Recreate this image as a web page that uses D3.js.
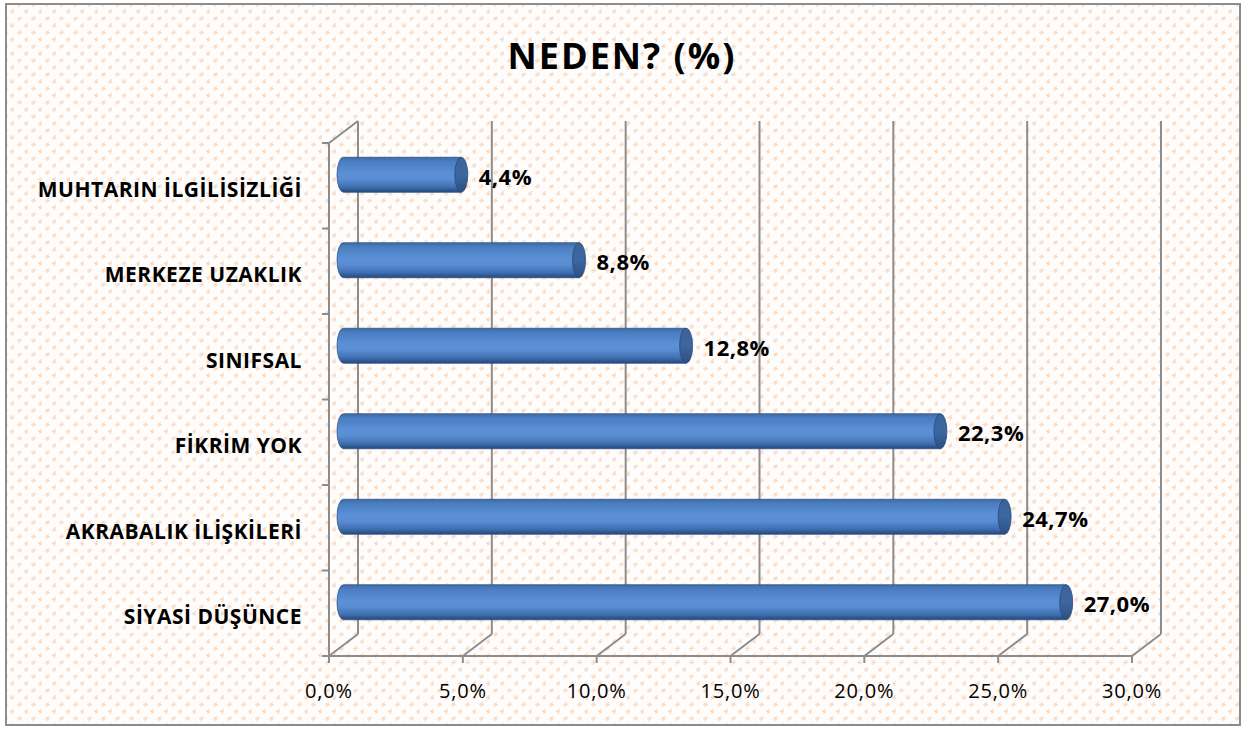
<!DOCTYPE html>
<html><head><meta charset="utf-8">
<script src="https://cdn.jsdelivr.net/npm/d3@7"></script>
<style>html,body{margin:0;padding:0;background:#fff;}svg{display:block;}</style>
</head><body>
<svg id="c" width="1248" height="731"></svg>
<script>
const categories = ["MUHTARIN İLGİLİSİZLİĞİ","MERKEZE UZAKLIK","SINIFSAL","FİKRİM YOK","AKRABALIK İLİŞKİLERİ","SİYASİ DÜŞÜNCE"];
const values = [4.4, 8.8, 12.8, 22.3, 24.7, 27.0];
const valueLabels = ["4,4%","8,8%","12,8%","22,3%","24,7%","27,0%"];
const tickValues = [0,5,10,15,20,25,30];
const tickLabels = ["0,0%","5,0%","10,0%","15,0%","20,0%","25,0%","30,0%"];
const title = "NEDEN? (%)";

const svg = d3.select("#c");
const font = "'Open Sans', Lato, sans-serif";

// background pattern
const defs = svg.append("defs");
const pat = defs.append("pattern").attr("id","bgp").attr("patternUnits","userSpaceOnUse")
  .attr("width",14).attr("height",14);
pat.append("rect").attr("width",14).attr("height",14).attr("fill","#fffdfb");
pat.append("path").attr("d","M3,5 l3,-2 l-1,3 l3,-2").attr("fill","none").attr("stroke","#f9dcc6").attr("stroke-width",1.3);
pat.append("path").attr("d","M10,12 l3,-2 l-1,3 l3,-2").attr("fill","none").attr("stroke","#f9dcc6").attr("stroke-width",1.3);

const grad = defs.append("linearGradient").attr("id","cyl").attr("x1",0).attr("y1",0).attr("x2",0).attr("y2",1);
[[0,"#3d6aa6"],[0.12,"#4a7dc0"],[0.45,"#5b90d6"],[0.62,"#5a8ed3"],[0.85,"#3f6fb0"],[1,"#25477a"]]
  .forEach(([o,c])=>grad.append("stop").attr("offset",o).attr("stop-color",c));
const capGrad = defs.append("linearGradient").attr("id","cap").attr("x1",0).attr("y1",0).attr("x2",0).attr("y2",1);
[[0,"#3c6399"],[0.5,"#3d67a2"],[1,"#2c4f80"]].forEach(([o,c])=>capGrad.append("stop").attr("offset",o).attr("stop-color",c));

svg.append("rect").attr("x",6).attr("y",4).attr("width",1234).attr("height",721)
  .attr("fill","url(#bgp)").attr("stroke","#8c8c8c").attr("stroke-width",2);

// title
svg.append("text").attr("x",622).attr("y",69).attr("text-anchor","middle")
  .attr("font-family",font).attr("font-weight","bold").attr("font-size",36).attr("letter-spacing",2)
  .attr("fill","#000").text(title);

// scales
const x = d3.scaleLinear().domain([0,30]).range([329,1132]);
const y = d3.scaleBand().domain(categories).range([143,656]);
const dx = 29, dy = -22;
const gridC = "#8c8c8c";

const g = svg.append("g");
// left wall
g.append("line").attr("x1",x(0)).attr("y1",143).attr("x2",x(0)).attr("y2",656).attr("stroke",gridC).attr("stroke-width",2);
g.append("line").attr("x1",x(0)).attr("y1",143).attr("x2",x(0)+dx).attr("y2",143+dy).attr("stroke",gridC).attr("stroke-width",2);
// left ticks
const yTicks = categories.map(c=>y(c)).concat([656]);
g.selectAll(".yt").data(yTicks).join("line").attr("x1",x(0)-7).attr("x2",x(0)).attr("y1",d=>d).attr("y2",d=>d)
  .attr("stroke",gridC).attr("stroke-width",2);
// back gridlines
g.selectAll(".bg").data(tickValues).join("line").attr("x1",d=>x(d)+dx).attr("x2",d=>x(d)+dx)
  .attr("y1",143+dy).attr("y2",656+dy).attr("stroke",gridC).attr("stroke-width",2);
// floor diagonals
g.selectAll(".fd").data(tickValues).join("line").attr("x1",d=>x(d)).attr("x2",d=>x(d)+dx)
  .attr("y1",656).attr("y2",656+dy).attr("stroke",gridC).attr("stroke-width",2);
// floor front line
g.append("line").attr("x1",x(0)).attr("x2",x(30)).attr("y1",656).attr("y2",656).attr("stroke",gridC).attr("stroke-width",2);
g.selectAll(".xt").data(tickValues).join("line").attr("x1",d=>x(d)).attr("x2",d=>x(d))
  .attr("y1",656).attr("y2",663).attr("stroke",gridC).attr("stroke-width",2);
// tick labels
g.selectAll(".xl").data(tickValues).join("text").attr("x",d=>x(d)).attr("y",698).attr("text-anchor","middle")
  .attr("font-family",font).attr("font-size",20).attr("letter-spacing",0.8).attr("fill","#000").text((d,i)=>tickLabels[i]);
// category labels
g.selectAll(".cl").data(categories).join("text").attr("x",302).attr("y",c=>y(c)+y.bandwidth()/2+11)
  .attr("text-anchor","end").attr("font-family",font).attr("font-weight","bold").attr("font-size",21)
  .attr("letter-spacing",0.5).attr("fill","#000").text(c=>c);

// bars (cylinders at mid depth)
const bh = 35, rx = 6.5;
const bars = g.selectAll(".bar").data(values).join("g");
bars.each(function(v,i){
  const s = d3.select(this);
  const cy = y(categories[i]) + y.bandwidth()/2 + dy/2;
  const xa = x(0)+dx/2, xb = x(v)+dx/2;
  const t = cy-bh/2, b = cy+bh/2;
  s.append("path").attr("d",`M${xa},${t} L${xb},${t} L${xb},${b} L${xa},${b} A${rx},${bh/2} 0 0 1 ${xa},${t} Z`)
    .attr("fill","url(#cyl)").attr("stroke","#2f5488").attr("stroke-width",0.8);
  s.append("ellipse").attr("cx",xb).attr("cy",cy).attr("rx",rx).attr("ry",bh/2)
    .attr("fill","url(#cap)").attr("stroke","#2a4a78").attr("stroke-width",0.8);
  s.append("text").attr("x",xb+rx+11).attr("y",cy+10).attr("font-family",font).attr("font-weight","bold")
    .attr("font-size",22).attr("letter-spacing",0.5).attr("fill","#000").text(valueLabels[i]);
});
</script>
</body></html>
